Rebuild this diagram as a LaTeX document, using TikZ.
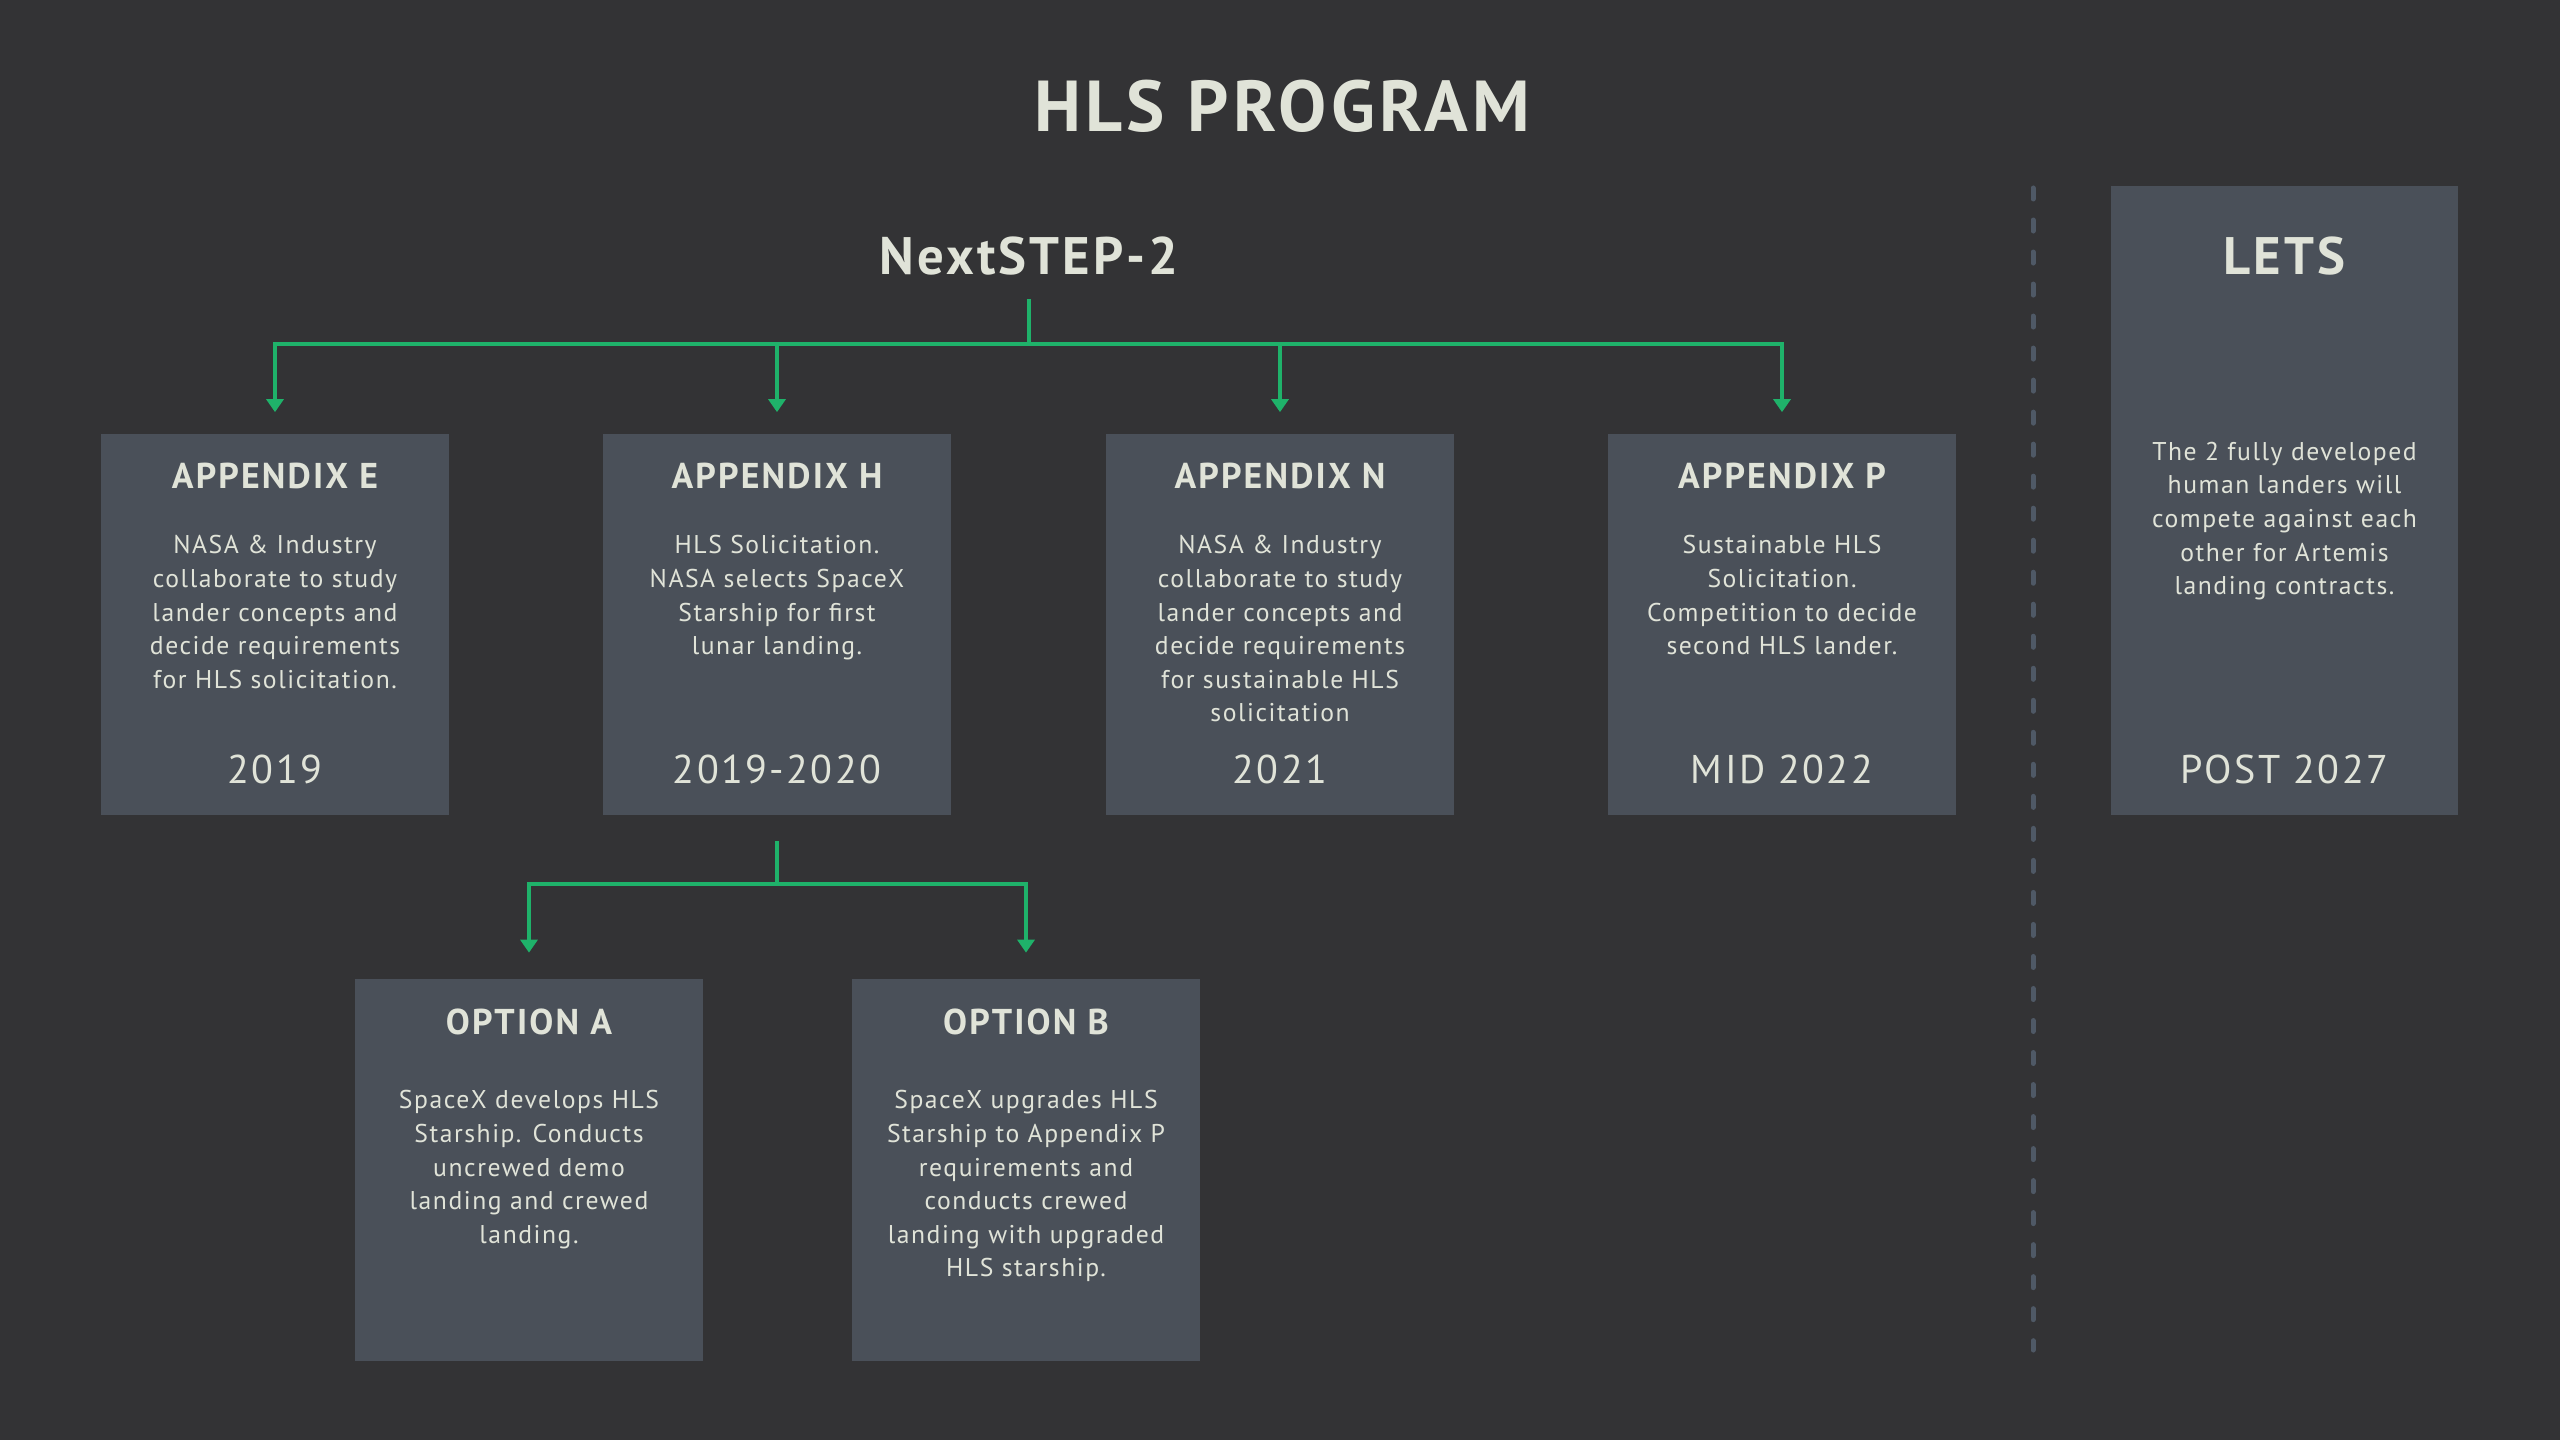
\documentclass[tikz,border=0pt]{standalone}
\usepackage{fontspec}
\setmainfont{PT Sans}
\newfontfamily\spacedfont[LetterSpace=6]{PT Sans}
\usetikzlibrary{arrows.meta,positioning}
\definecolor{bgdark}{HTML}{333335}
\definecolor{boxgrey}{HTML}{4A5059}
\definecolor{paper}{HTML}{E0E3D8}
\definecolor{linkgreen}{HTML}{1FB26A}
\definecolor{dashgrey}{HTML}{4F5966}
\begin{document}
\begin{tikzpicture}[x=0.01cm, y=-0.01cm,
  card/.style={fill=boxgrey, draw=none, inner sep=0, minimum width=3.47cm, minimum height=3.81cm},
  tallcard/.style={card, minimum height=6.29cm},
  head/.style={text=paper, inner sep=0, font=\spacedfont\bfseries\fontsize{10.2}{12}\selectfont},
  blurb/.style={text=paper, inner sep=0, anchor=north, align=center, font=\spacedfont\fontsize{7.3}{9.55}\selectfont},
  year/.style={text=paper, inner sep=0, font=\spacedfont\fontsize{11.4}{13}\selectfont},
  wire/.style={linkgreen, line width=0.045cm},
  feed/.style={wire, -{Triangle[length=0.13cm,width=0.17cm]}, shorten >=#1},
  feed/.default=0.21cm]
\fill[bgdark] (0,0) rectangle (2560,1440);
\useasboundingbox (0,0) rectangle (2560,1440);

% titles
\node[text=paper, font=\spacedfont\bfseries\fontsize{20.5}{24}\selectfont] (title) at (1282,106) {HLS PROGRAM};
\node[text=paper, font=\spacedfont\bfseries\fontsize{15}{18}\selectfont] (nstep) at (1029,256) {NextSTEP-2};

% appendix cards
\node[card] (appE) at (275,624.5) {};
\node[card] (appH) at (777,624.5) {};
\node[card] (appN) at (1280,624.5) {};
\node[card] (appP) at (1782,624.5) {};
\node[tallcard] (lets) at (2284.5,500.5) {};

\node[head] (appEhead) at (275,476) {APPENDIX E};
\node[blurb] (appEtext) at (275,535) {NASA \& Industry\\collaborate to study\\lander concepts and\\decide requirements\\for HLS solicitation.};
\node[year] (appEyear) at (275,769) {2019};

\node[head] (appHhead) at (777,476) {APPENDIX H};
\node[blurb] (appHtext) at (777,535) {HLS Solicitation.\\NASA selects SpaceX\\Starship for first\\lunar landing.};
\node[year] (appHyear) at (777,769) {2019-2020};

\node[head] (appNhead) at (1280,476) {APPENDIX N};
\node[blurb] (appNtext) at (1280,535) {NASA \& Industry\\collaborate to study\\lander concepts and\\decide requirements\\for sustainable HLS\\solicitation};
\node[year] (appNyear) at (1280,769) {2021};

\node[head] (appPhead) at (1782,476) {APPENDIX P};
\node[blurb] (appPtext) at (1782,535) {Sustainable HLS\\Solicitation.\\Competition to decide\\second HLS lander.};
\node[year] (appPyear) at (1782,769) {MID 2022};

\node[text=paper, inner sep=0, font=\spacedfont\bfseries\fontsize{15}{18}\selectfont] (letshead) at (2284.5,256) {LETS};
\node[blurb, anchor=center] (letstext) at (2284.5,521) {The 2 fully developed\\human landers will\\compete against each\\other for Artemis\\landing contracts.};
\node[year] (letsyear) at (2284.5,769) {POST 2027};

% option cards
\node[card] (optA) at (529,1170) {};
\node[card] (optB) at (1026,1170) {};

\node[head] (optAhead) at (529,1022) {OPTION A};
\node[blurb] (optAtext) at (529,1090) {SpaceX develops HLS\\Starship. Conducts\\uncrewed demo\\landing and crewed\\landing.};

\node[head] (optBhead) at (1026,1022) {OPTION B};
\node[blurb] (optBtext) at (1026,1090) {SpaceX upgrades HLS\\Starship to Appendix P\\requirements and\\conducts crewed\\landing with upgraded\\HLS starship.};

% connectors
\coordinate (nsfoot) at (1029,299);
\coordinate (bus) at (1029,344);
\draw[wire] (nsfoot) -- (bus);
\draw[feed] (bus) -| (appE);
\draw[feed] (bus) -| (appH);
\draw[feed] (bus) -| (appN);
\draw[feed] (bus) -| (appP);

\coordinate (hfoot) at (777,841);
\coordinate (hbus) at (777,884);
\draw[wire] (hfoot) -- (hbus);
\draw[feed=0.26cm] (hbus) -| (optA);
\draw[feed=0.26cm] (hbus) -| (optB);

% divider
\draw[dashgrey, line width=0.05cm, line cap=round, dash pattern=on 0.11cm off 0.21cm] (2033,188) -- (2033,1350);
\end{tikzpicture}
\end{document}
